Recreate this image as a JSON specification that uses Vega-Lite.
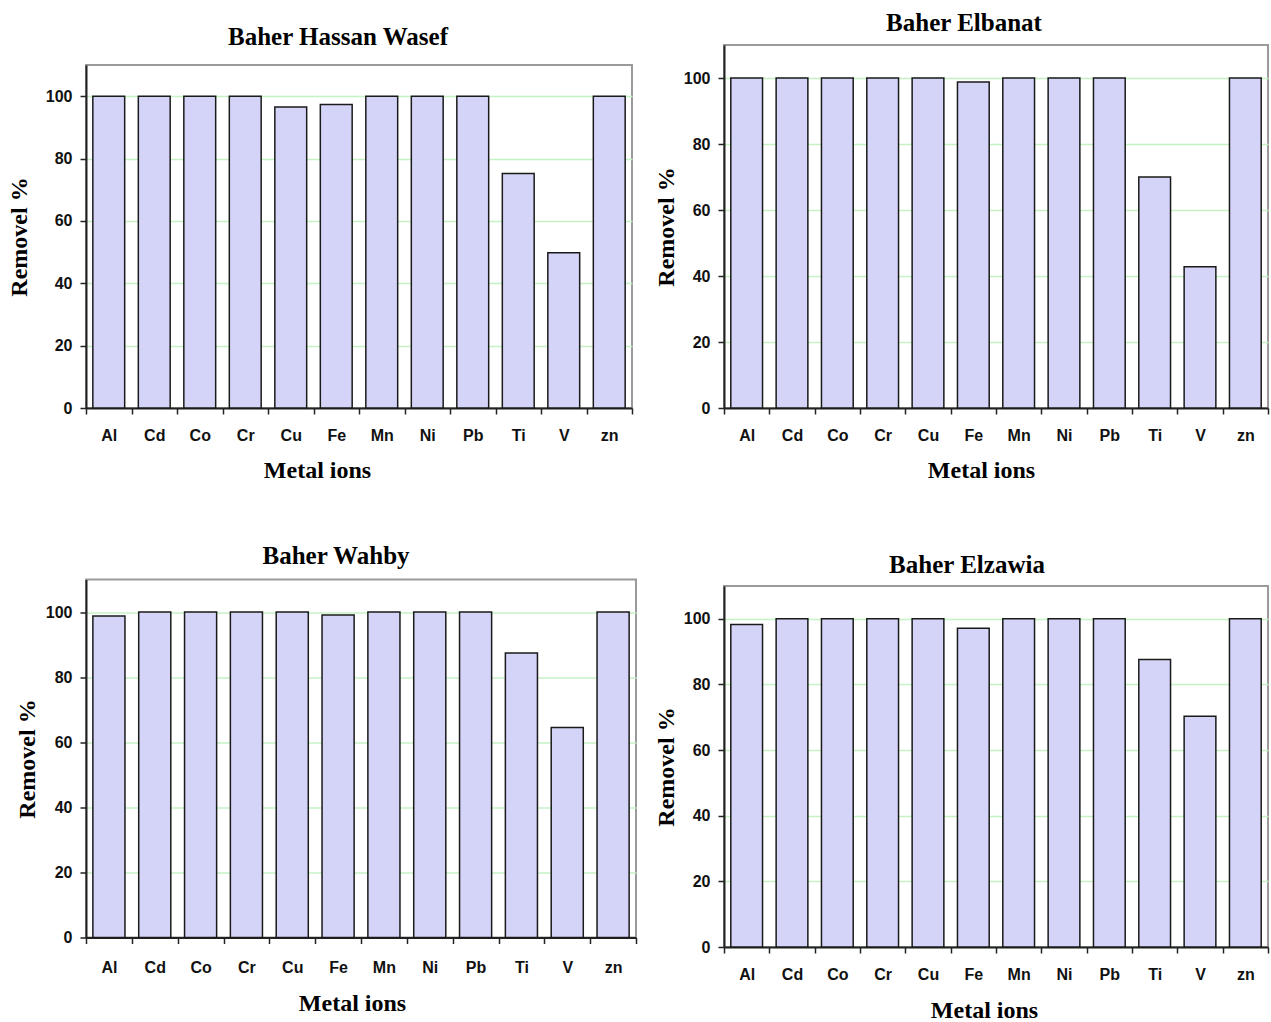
{
  "$schema": "https://vega.github.io/schema/vega-lite/v6.json",
  "padding": {"left": 6, "top": 9, "right": 0, "bottom": 0},
  "background": "white",
  "datasets": {
    "p1": [
      {"metal": "Al", "removal": 100}, {"metal": "Cd", "removal": 100}, {"metal": "Co", "removal": 100},
      {"metal": "Cr", "removal": 100}, {"metal": "Cu", "removal": 96.5}, {"metal": "Fe", "removal": 97.3},
      {"metal": "Mn", "removal": 100}, {"metal": "Ni", "removal": 100}, {"metal": "Pb", "removal": 100},
      {"metal": "Ti", "removal": 75.2}, {"metal": "V", "removal": 49.8}, {"metal": "zn", "removal": 100}
    ],
    "p2": [
      {"metal": "Al", "removal": 100}, {"metal": "Cd", "removal": 100}, {"metal": "Co", "removal": 100},
      {"metal": "Cr", "removal": 100}, {"metal": "Cu", "removal": 100}, {"metal": "Fe", "removal": 98.8},
      {"metal": "Mn", "removal": 100}, {"metal": "Ni", "removal": 100}, {"metal": "Pb", "removal": 100},
      {"metal": "Ti", "removal": 70.0}, {"metal": "V", "removal": 42.8}, {"metal": "zn", "removal": 100}
    ],
    "p3": [
      {"metal": "Al", "removal": 98.8}, {"metal": "Cd", "removal": 100}, {"metal": "Co", "removal": 100},
      {"metal": "Cr", "removal": 100}, {"metal": "Cu", "removal": 100}, {"metal": "Fe", "removal": 99.1},
      {"metal": "Mn", "removal": 100}, {"metal": "Ni", "removal": 100}, {"metal": "Pb", "removal": 100},
      {"metal": "Ti", "removal": 87.4}, {"metal": "V", "removal": 64.5}, {"metal": "zn", "removal": 100}
    ],
    "p4": [
      {"metal": "Al", "removal": 98.3}, {"metal": "Cd", "removal": 100}, {"metal": "Co", "removal": 100},
      {"metal": "Cr", "removal": 100}, {"metal": "Cu", "removal": 100}, {"metal": "Fe", "removal": 97.1},
      {"metal": "Mn", "removal": 100}, {"metal": "Ni", "removal": 100}, {"metal": "Pb", "removal": 100},
      {"metal": "Ti", "removal": 87.6}, {"metal": "V", "removal": 70.3}, {"metal": "zn", "removal": 100}
    ]
  },
  "spacing": 15,
  "hconcat": [
    {
      "spacing": 0,
      "vconcat": [
        {
          "width": 1, "height": 14,
          "view": {"stroke": null},
          "data": {"values": [{}]},
          "mark": {"type": "text", "text": "", "fontSize": 0}
        },
        {
          "spacing": 59.5,
          "vconcat": [
            {
              "title": {"text": "Baher Hassan Wasef", "offset": 15.5, "dx": -21},
              "width": 546, "height": 343,
              "data": {"name": "p1"},
              "mark": {"type": "bar", "width": {"band": 0.7}, "fill": "#d4d4f8", "stroke": "#1a1a1a", "strokeWidth": 1.5},
              "encoding": {
                "x": {"field": "metal", "type": "nominal", "sort": null, "scale": {"paddingInner": 0, "paddingOuter": 0},
                      "axis": {"title": "Metal ions", "titleX": 231, "titleY": 50, "labelPadding": 13}},
                "y": {"field": "removal", "type": "quantitative", "scale": {"domain": [0, 110], "nice": false},
                      "axis": {"title": "Removel %", "values": [0, 20, 40, 60, 80, 100], "titlePadding": 14.3}}
              }
            },
            {
              "title": {"text": "Baher Wahby", "offset": 10.5, "dx": -25},
              "width": 550, "height": 358,
              "data": {"name": "p3"},
              "mark": {"type": "bar", "width": {"band": 0.7}, "fill": "#d4d4f8", "stroke": "#1a1a1a", "strokeWidth": 1.5},
              "encoding": {
                "x": {"field": "metal", "type": "nominal", "sort": null, "scale": {"paddingInner": 0, "paddingOuter": 0},
                      "axis": {"title": "Metal ions", "titleX": 266, "titleY": 54, "labelPadding": 16}},
                "y": {"field": "removal", "type": "quantitative", "scale": {"domain": [0, 110], "nice": false},
                      "axis": {"title": "Removel %", "values": [0, 20, 40, 60, 80, 100], "titlePadding": 6.3}}
              }
            }
          ]
        }
      ]
    },
    {
      "spacing": 0,
      "vconcat": [
        {
          "width": 1, "height": 1,
          "view": {"stroke": null},
          "data": {"values": [{}]},
          "mark": {"type": "text", "text": "", "fontSize": 0}
        },
        {
          "spacing": 68,
          "vconcat": [
            {
              "title": {"text": "Baher Elbanat", "offset": 9, "dx": -32},
              "width": 544, "height": 363,
              "data": {"name": "p2"},
              "mark": {"type": "bar", "width": {"band": 0.7}, "fill": "#d4d4f8", "stroke": "#1a1a1a", "strokeWidth": 1.5},
              "encoding": {
                "x": {"field": "metal", "type": "nominal", "sort": null, "scale": {"paddingInner": 0, "paddingOuter": 0},
                      "axis": {"title": "Metal ions", "titleX": 257, "titleY": 50, "labelPadding": 13}},
                "y": {"field": "removal", "type": "quantitative", "scale": {"domain": [0, 110], "nice": false},
                      "axis": {"title": "Removel %", "values": [0, 20, 40, 60, 80, 100], "titlePadding": 5.3}}
              }
            },
            {
              "title": {"text": "Baher Elzawia", "offset": 8.5, "dx": -29},
              "width": 544, "height": 361,
              "data": {"name": "p4"},
              "mark": {"type": "bar", "width": {"band": 0.7}, "fill": "#d4d4f8", "stroke": "#1a1a1a", "strokeWidth": 1.5},
              "encoding": {
                "x": {"field": "metal", "type": "nominal", "sort": null, "scale": {"paddingInner": 0, "paddingOuter": 0},
                      "axis": {"title": "Metal ions", "titleX": 260, "titleY": 51, "labelPadding": 13}},
                "y": {"field": "removal", "type": "quantitative", "scale": {"domain": [0, 110], "nice": false},
                      "axis": {"title": "Removel %", "values": [0, 20, 40, 60, 80, 100], "titlePadding": 5.3}}
              }
            }
          ]
        }
      ]
    }
  ],
  "config": {
    "view": {"stroke": "#9a9a9a", "strokeWidth": 2},
    "axis": {
      "domainColor": "#222222", "domainWidth": 2, "tickColor": "#222222", "tickWidth": 1.5,
      "labelFont": "Liberation Sans", "labelFontWeight": "bold", "labelFontSize": 16, "labelColor": "#111111",
      "titleFont": "Liberation Serif", "titleFontWeight": "bold", "titleFontSize": 24, "titleColor": "#000000"
    },
    "axisX": {"grid": false, "labelAngle": 0, "tickSize": 6, "tickBand": "extent"},
    "axisY": {"gridColor": "#c5f2c5", "gridWidth": 1.5, "tickSize": 6, "labelPadding": 8},
    "title": {"font": "Liberation Serif", "fontWeight": "bold", "fontSize": 25, "color": "#000000", "baseline": "bottom"}
  }
}
